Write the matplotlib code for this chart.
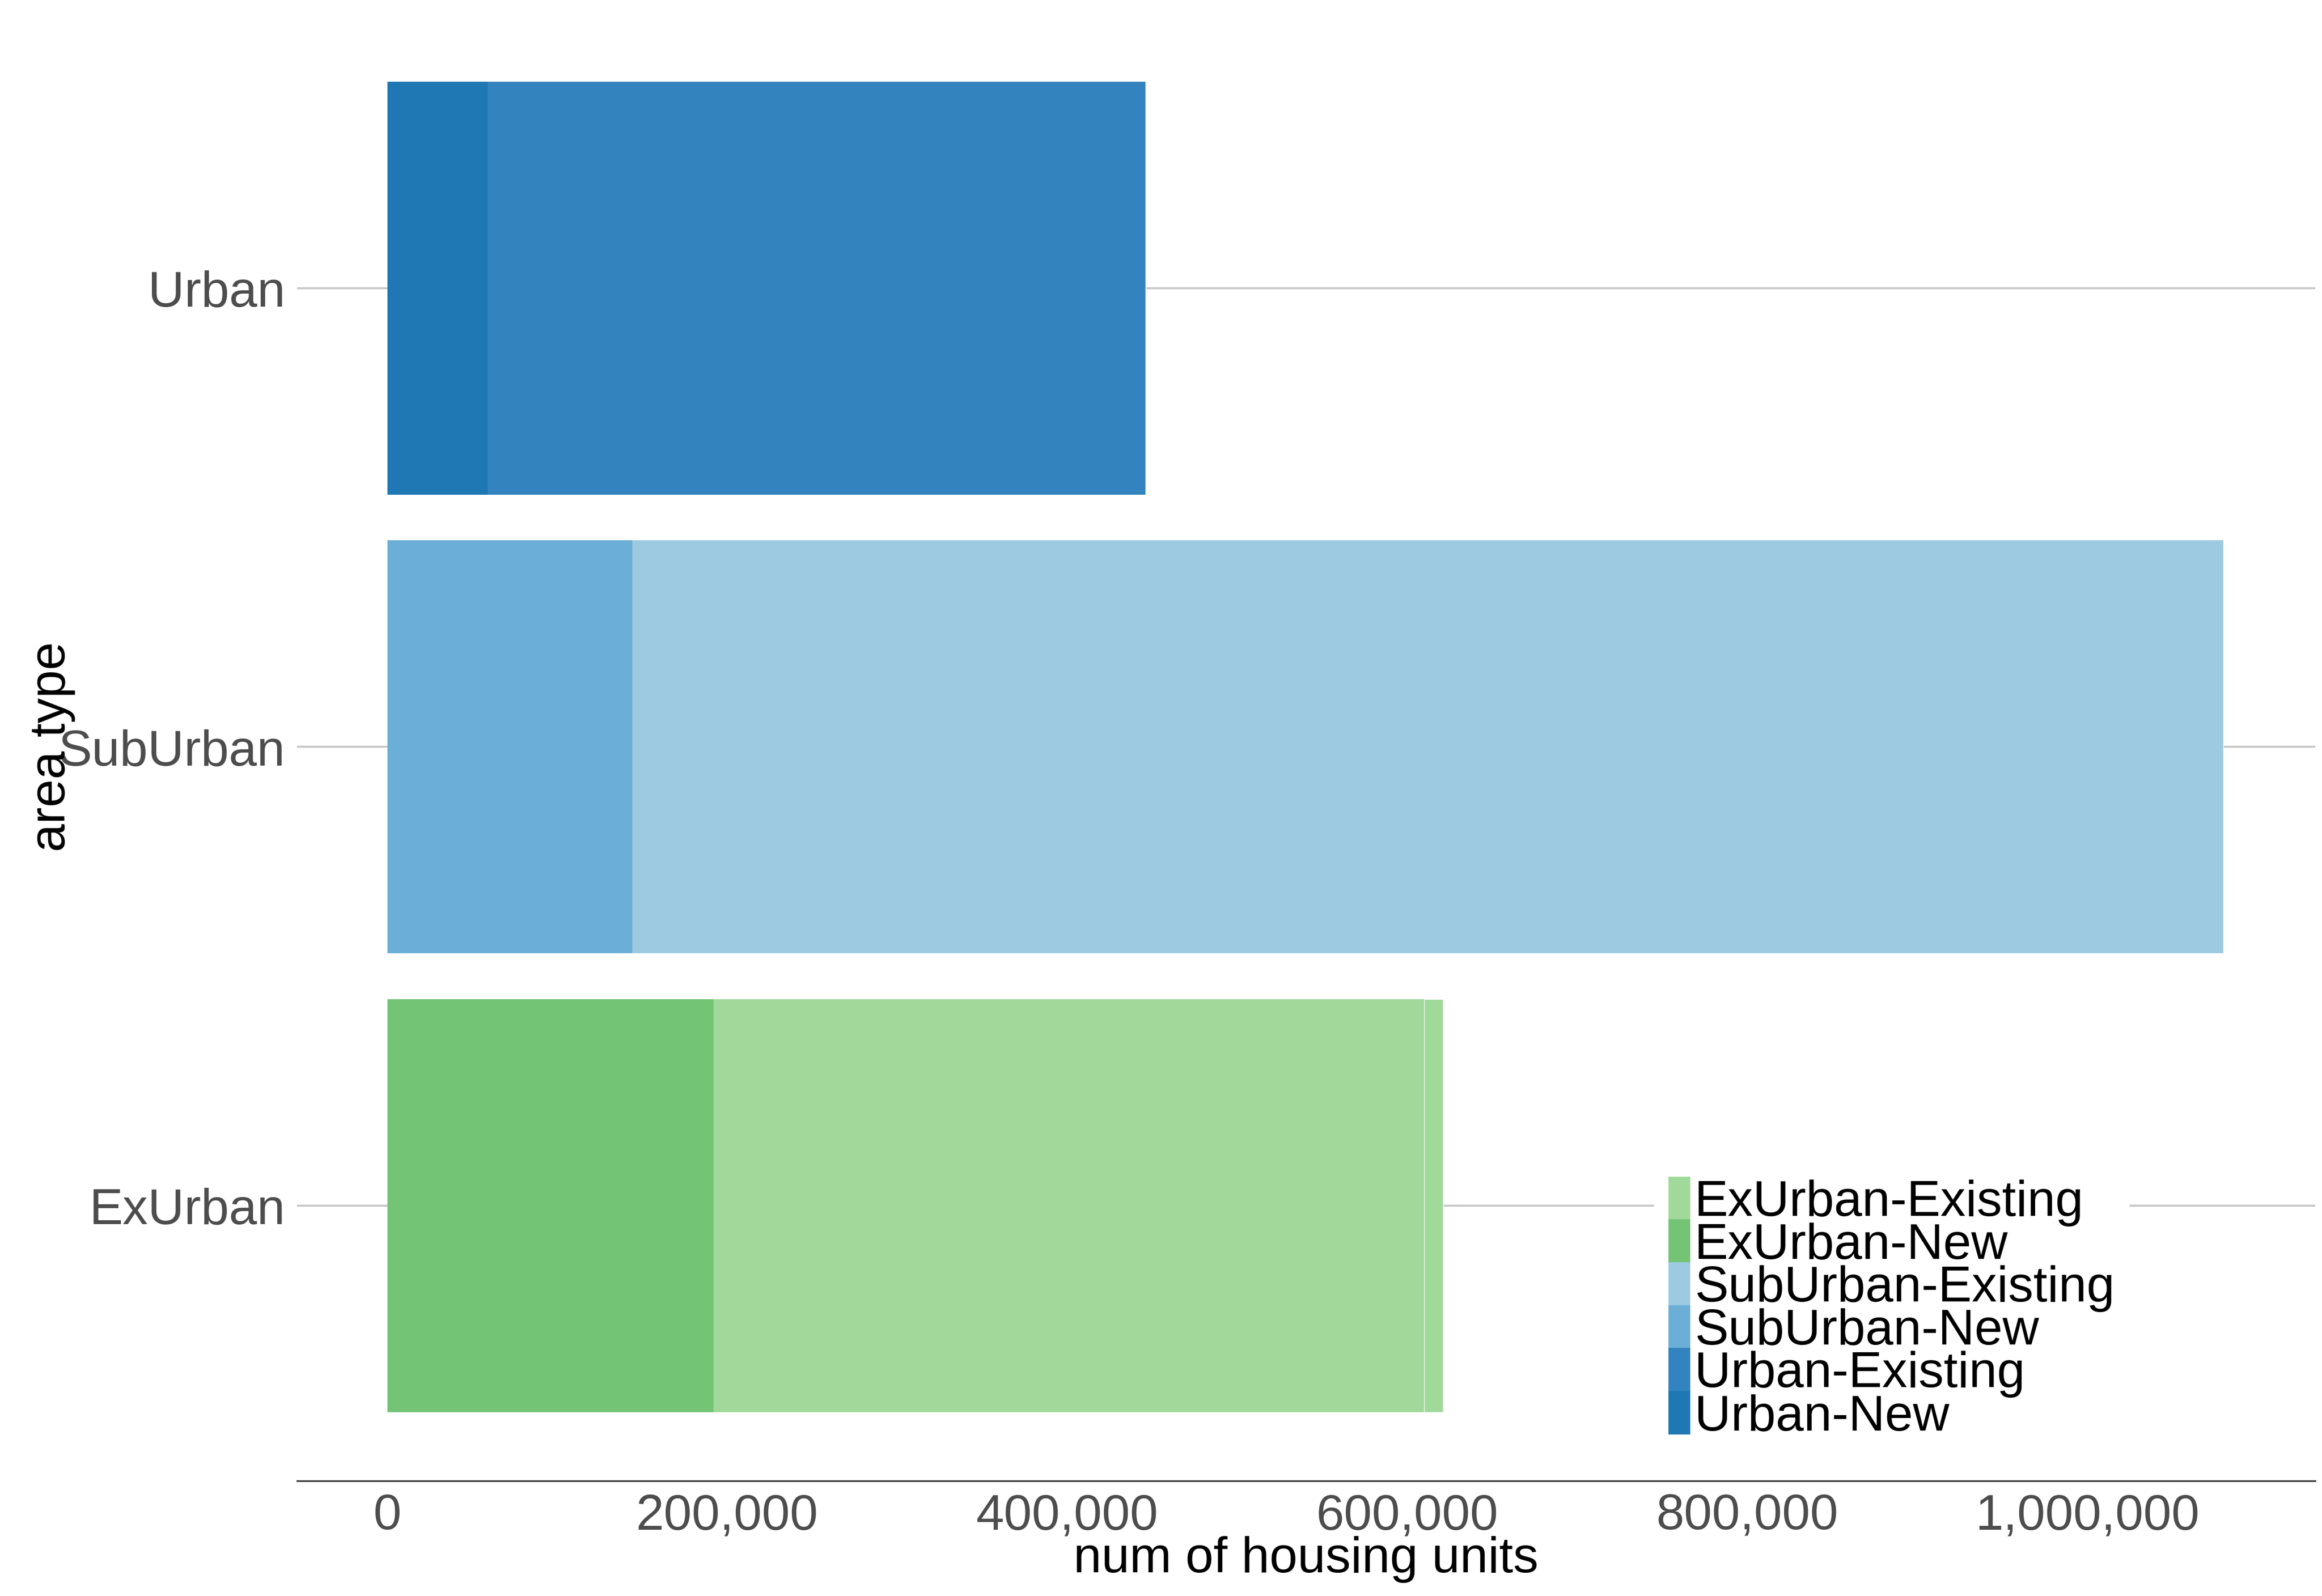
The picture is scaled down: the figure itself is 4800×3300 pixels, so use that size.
import matplotlib.pyplot as plt
from matplotlib.patches import Patch
from matplotlib.ticker import FuncFormatter

plt.rcParams['font.family'] = ['Liberation Sans', 'DejaVu Sans']

areas = ['ExUrban', 'SubUrban', 'Urban']
new_units = [192000, 144000, 59000]
existing_units = [418000, 936000, 387000]
extra_existing = [11000, 0, 0]

new_colors = ['#74c476', '#6baed6', '#1f77b4']
existing_colors = ['#a1d99b', '#9ecae1', '#3383be']

fig = plt.figure(figsize=(16, 11), dpi=300)
ax = fig.add_axes([0.128, 0.072, 0.869, 0.92])

ypos = list(range(len(areas)))
ax.barh(ypos, new_units, height=0.9, color=new_colors, zorder=2)
ax.barh(ypos, existing_units, left=new_units, height=0.9, color=existing_colors, zorder=2)
left2 = [a + b for a, b in zip(new_units, existing_units)]
ax.barh(ypos, extra_existing, left=left2, height=0.9, color=existing_colors,
        edgecolor='white', linewidth=0.3, zorder=2)

ax.set_yticks(ypos)
ax.set_yticklabels(areas)
ax.set_ylim(-0.6, 2.6)
ax.set_xlim(-53000, 1134000)
ax.set_xticks([0, 200000, 400000, 600000, 800000, 1000000])
ax.xaxis.set_major_formatter(FuncFormatter(lambda v, p: f'{int(v):,}'))
ax.grid(axis='y', color='#c8c8c8', linewidth=1, zorder=0)
for s in ['top', 'right', 'left']:
    ax.spines[s].set_visible(False)
ax.spines['bottom'].set_color('#333333')
ax.tick_params(axis='both', length=0, labelsize=25, labelcolor='#4d4d4d', pad=6)
ax.set_xlabel('num of housing units', fontsize=25, labelpad=-2)
ax.set_ylabel('area type', fontsize=25)
ax.yaxis.set_label_coords(-0.11, 0.5)

labels = ['ExUrban-Existing', 'ExUrban-New', 'SubUrban-Existing',
          'SubUrban-New', 'Urban-Existing', 'Urban-New']
cols = ['#a1d99b', '#74c476', '#9ecae1', '#6baed6', '#3383be', '#1f77b4']
handles = [Patch(color=c) for c in cols]
ax.legend(handles, labels, loc='lower left', bbox_to_anchor=(0.66, 0.0),
          frameon=True, facecolor='white', edgecolor='none', framealpha=1,
          fontsize=25, handlelength=0.4, handleheight=0.9, handletextpad=0.1,
          labelspacing=-0.12, borderpad=0.3)

fig.savefig('out.png', dpi=300)
